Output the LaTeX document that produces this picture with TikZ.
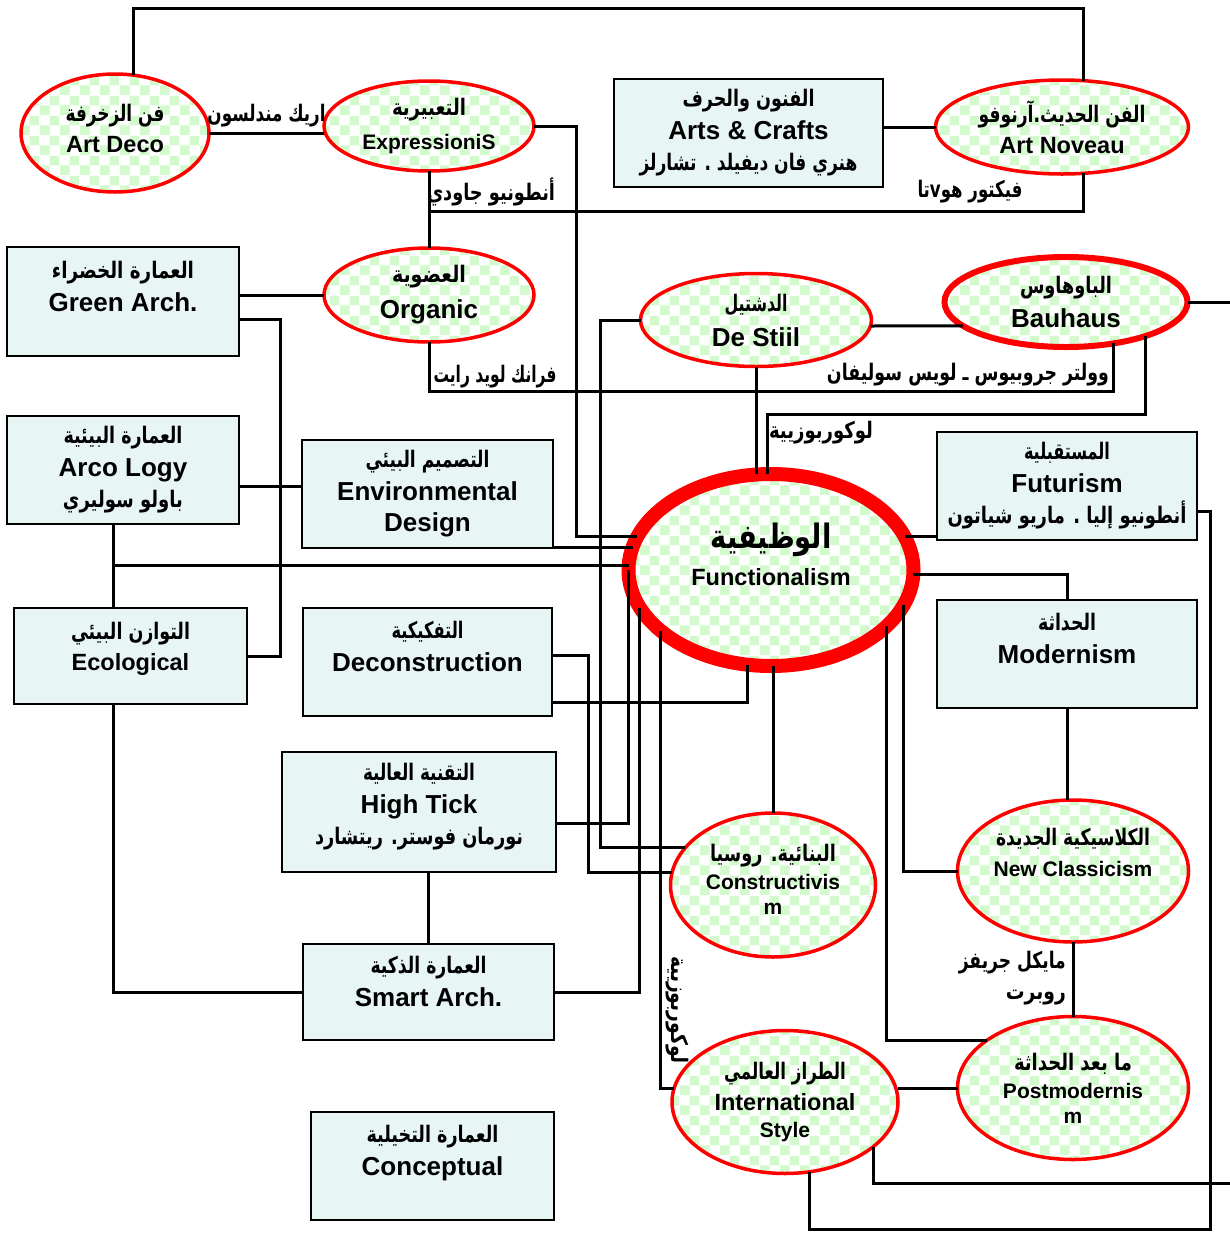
\documentclass[tikz,border=0pt]{standalone}
\usepackage{graphicx}
\usepackage{fontspec}
\setmainfont{Liberation Sans}
\newfontfamily\arabicfont[Script=Arabic]{DejaVu Sans}
\TeXXeTstate=1
\usetikzlibrary{shapes.geometric,patterns}
\definecolor{checkgreen}{RGB}{210,250,205}
\definecolor{boxfill}{RGB}{232,245,245}
\definecolor{ovalred}{RGB}{255,0,0}
\pgfdeclarepatternformonly{greenchecker}{\pgfpointorigin}{\pgfqpoint{20pt}{20pt}}{\pgfqpoint{20pt}{20pt}}{%
  \pgfpathrectangle{\pgfpointorigin}{\pgfqpoint{10pt}{10pt}}%
  \pgfpathrectangle{\pgfqpoint{10pt}{10pt}}{\pgfqpoint{10pt}{10pt}}%
  \pgfusepath{fill}}
% arabic line squeezed to the width it has in the drawing
\newcommand{\arfit}[3][19]{\resizebox{#2pt}{1.2\height}{\arabicfont\bfseries\fontsize{#1}{#1}\selectfont #3}}
\begin{document}
\begin{tikzpicture}[x=1pt, y=-1pt,
    wire/.style={line width=3pt},
    oval/.style={ellipse, draw=ovalred, line width=3.5pt, preaction={fill=white},
      pattern=greenchecker, pattern color=checkgreen, inner sep=0pt, outer sep=0pt, align=center},
    panel/.style={rectangle, draw, line width=2pt, fill=boxfill, inner sep=0pt, outer sep=0pt, align=center},
    big/.style={font=\bfseries\fontsize{26}{31}\selectfont},
    mid/.style={font=\bfseries\fontsize{23.5}{31}\selectfont},
    small/.style={font=\bfseries\fontsize{21}{28}\selectfont},
    txtlabel/.style={inner sep=0pt, font=\bfseries\fontsize{20}{31}\selectfont}]
  \useasboundingbox (0,0) rectangle (1230,1235);

  % movements (ovals)
  \node (artdeco) [oval, mid, minimum width=188, minimum height=118] at (115,133) {\arfit{99}{\beginR فن الزخرفة\endR}\\Art Deco\\[-21pt]\mbox{}};
  \node (expression) [oval, small, minimum width=210, minimum height=90] at (429,126) {\arfit{74}{\beginR التعبيرية\endR}\\[6pt]ExpressioniS};
  \node (artnoveau) [oval, mid, minimum width=253, minimum height=94] at (1062,127) {\arfit{167}{\beginR الفن الحديث.آرنوفو\endR}\\Art Noveau};
  \node (organic) [oval, big, minimum width=210, minimum height=94] at (429,295) {\arfit{74}{\beginR العضوية\endR}\\[5pt]Organic};
  \node (destijl) [oval, big, minimum width=231, minimum height=93] at (756,320) {\arfit{63}{\beginR الدشتيل\endR}\\[4pt]De Stiil};
  \node (bauhaus) [oval, big, line width=6pt, minimum width=243, minimum height=90] at (1066,302) {\arfit{92}{\beginR الباوهاوس\endR}\\[3pt]Bauhaus};
  \node (function) [oval, mid, line width=14pt, minimum width=285, minimum height=192] at (771,570) {\arfit[28]{121}{\beginR الوظيفية\endR}\\[6pt]Functionalism\\\mbox{}};
  \node (construct) [oval, small, minimum width=205, minimum height=144] at (773,885) {\arfit{126}{\beginR البنائية. روسيا\endR}\\Constructivis\\[-3pt]m\\[-16pt]\mbox{}};
  \node (newclass) [oval, small, minimum width=231, minimum height=142] at (1073,871) {\arfit{154}{\beginR الكلاسيكية الجديدة\endR}\\[3pt]New Classicism\\[10pt]\mbox{}};
  \node (postmod) [oval, small, minimum width=231, minimum height=143] at (1073,1088) {\arfit{118}{\beginR ما بعد الحداثة\endR}\\Postmodernis\\[-3pt]m};
  \node (intl) [oval, mid, minimum width=226, minimum height=143] at (785,1102) {\arfit{122}{\beginR الطراز العالمي\endR}\\International\\[-4pt]{\fontsize{21}{28}\selectfont Style}};

  % movements (boxes)
  \node (arts) [panel, big, minimum width=269, minimum height=108] at (748.5,133) {\arfit{132}{\beginR الفنون والحرف\endR}\\[2pt]Arts \& Crafts\\\arfit{218}{\beginR هنري فان ديفيلد . تشارلز\endR}};
  \node (green) [panel, big, minimum width=232, minimum height=109] at (123,301.5) {\arfit{142}{\beginR العمارة الخضراء\endR}\\[2pt]Green Arch.\\\mbox{}};
  \node (arco) [panel, big, minimum width=232, minimum height=108] at (123,470) {\arfit{119}{\beginR العمارة البيئية\endR}\\[2pt]Arco Logy\\\arfit{120}{\beginR باولو سوليري\endR}};
  \node (envdes) [panel, big, minimum width=251, minimum height=108] at (427.5,494) {\arfit{124}{\beginR التصميم البيئي\endR}\\[2pt]Environmental\\Design};
  \node (futur) [panel, big, minimum width=260, minimum height=108] at (1067,486) {\arfit{86}{\beginR المستقبلية\endR}\\[2pt]Futurism\\\arfit{239}{\beginR أنطونيو إليا . ماريو شياتون\endR}};
  \node (ecolog) [panel, mid, minimum width=233, minimum height=96] at (130.5,656) {\arfit{119}{\beginR التوازن البيئي\endR}\\Ecological\\[-12pt]\mbox{}};
  \node (decon) [panel, big, minimum width=249, minimum height=108] at (427.5,662) {\arfit{72}{\beginR التفكيكية\endR}\\[2pt]Deconstruction\\\mbox{}};
  \node (modern) [panel, big, minimum width=260, minimum height=108] at (1067,654) {\arfit{58}{\beginR الحداثة\endR}\\[2pt]Modernism\\\mbox{}};
  \node (hightech) [panel, big, minimum width=274, minimum height=120] at (419,812) {\arfit{112}{\beginR التقنية العالية\endR}\\[2pt]High Tick\\\arfit{208}{\beginR نورمان فوستر. ريتشارد\endR}\\[-14pt]\mbox{}};
  \node (smart) [panel, big, minimum width=251, minimum height=96] at (428.5,992) {\arfit{116}{\beginR العمارة الذكية\endR}\\[2pt]Smart Arch.\\[-10pt]\mbox{}};
  \node (concept) [panel, big, minimum width=243, minimum height=108] at (432.5,1166) {\arfit{132}{\beginR العمارة التخيلية\endR}\\[2pt]Conceptual\\\mbox{}};

  % loose ends at the right margin
  \coordinate (bauout) at (1230,302);
  \coordinate (intlout) at (1230,1183);

  % connectors
  \draw[wire] (artdeco.72) -- ++(0,-67) -| (artnoveau.65);
  \draw[wire] (artdeco.east) -- (artdeco.east -| expression.west)
    node (mendelsohn) [txtlabel, midway, above=4pt] {\arfit{118}{\beginR اريك مندلسون\endR}};
  \draw[wire] (expression.east) -- ++(42,0) |- (function.166);
  \draw[wire] (expression.south) -- (organic.north);
  \draw[wire] (artnoveau.295) -- ++(0,38) -| (expression.south);
  \draw[wire] (arts.east |- artnoveau.west) -- (artnoveau.west);
  \draw[wire] (green.east |- organic.west) -- (organic.west);
  \draw[wire] (green.351) -- ++(41,0) |- (ecolog.east);
  \draw[wire] (organic.south) -- ++(0,49) -| (bauhaus.319);
  \draw[wire] (bauhaus.337) -- ++(0,79) -| (function.92);
  \draw[wire] (destijl.south) -- (destijl.south |- function.north);
  \draw[wire] (destijl.357) -- (bauhaus.193);
  \draw[wire] (bauhaus.east) -- (bauout);
  \draw[wire] (futur.349) -| ++(13,718) -| (intl.289);
  \draw[wire] (function.14) -- (function.14 -| futur.west);
  \draw[wire] (function.358) -| (modern.north);
  \draw[wire] (modern.south) -- (modern.south |- newclass.north);
  \draw[wire] (function.345) |- (newclass.west);
  \draw[wire] (function.334) |- (postmod.151);
  \draw[wire] (newclass.south) -- (postmod.north);
  \draw[wire] (function.256) |- (decon.342);
  \draw[wire] (function.south -| construct.north) -- (construct.north);
  \draw[wire] (decon.3) -- ++(36,0) |- (construct.173);
  \draw[wire] (destijl.west) -- ++(-40,0) |- (construct.157);
  \draw[wire] (arco.352) -- (arco.352 -| envdes.west);
  \draw[wire] (envdes.337) -- (envdes.337 -| function.170);
  \draw[wire] (arco.260) -- (arco.260 |- ecolog.north);
  \draw[wire] (function.178) -- (function.178 -| arco.260);
  \draw[wire] (function.west) |- (hightech.355);
  \draw[wire] (ecolog.250) |- (smart.west);
  \draw[wire] (smart.north |- hightech.south) -- (smart.north);
  \draw[wire] (function.196) |- (smart.east);
  \draw[wire] (function.209) |- (intl.173);
  \draw[wire] (postmod.west -| intl.east) -- (postmod.west);
  \draw[wire] (intl.333) |- (intlout);

  % architects on the links
  \node (gaudi) [txtlabel] at (491,192) {\arfit{128}{\beginR أنطونيو جاودي\endR}};
  \node (horta) [txtlabel] at (970,192) {\arfit{105}{\beginR فيكتور هوvتا\endR}};
  \node (wright) [txtlabel] at (495,377) {\arfit{123}{\beginR فرانك لويد رايت\endR}};
  \node (gropius) [txtlabel] at (968,375) {\arfit{282}{\beginR وولتر جروبيوس ـ لويس سوليفان\endR}};
  \node (corbusier) [txtlabel] at (821,433) {\arfit{104}{\beginR لوكوربوزيية\endR}};
  \node (corbusiertoo) [txtlabel, rotate=-90] at (677,1010) {\arfit{108}{\beginR لوكوربوزيية\endR}};
  \node (graves) [txtlabel, anchor=east, align=right] at (1066,978) {\arfit{107}{\beginR مايكل جريفز\endR}\\\arfit{60}{\beginR روبرت\endR}};
\end{tikzpicture}
\end{document}
